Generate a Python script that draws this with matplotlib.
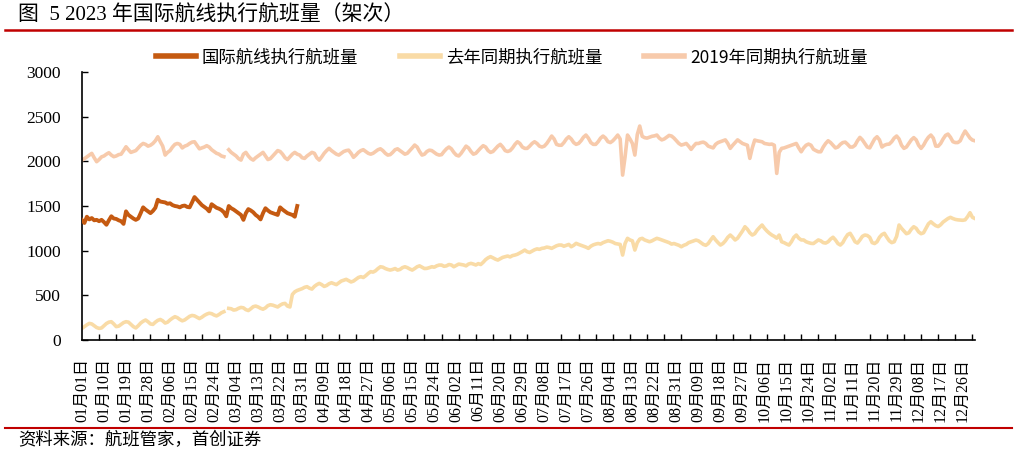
import matplotlib.pyplot as plt
import numpy as np
import pandas as pd

nan = np.nan

# daily values on a 366-day axis (02-29 slot is empty for 2019 / 2022)
flights_2023 = [
    1343, 1310, 1380, 1350, 1365, 1340, 1345,
    1330, 1345, 1320, 1290, 1340, 1385, 1360,
    1355, 1340, 1330, 1300, 1440, 1400, 1380,
    1360, 1345, 1360, 1420, 1485, 1460, 1440,
    1420, 1445, 1480, 1570, 1550, 1545, 1540,
    1525, 1530, 1510, 1500, 1495, 1485, 1500,
    1505, 1490, 1485, 1540, 1600, 1570, 1540,
    1510, 1490, 1470, 1440, 1520, 1500, 1480,
    1470, 1455, 1430, 1385, 1500, 1475, 1460,
    1440, 1420, 1400, 1345, 1420, 1465, 1450,
    1430, 1400, 1380, 1350, 1420, 1475, 1450,
    1430, 1420, 1410, 1400, 1485, 1460, 1440,
    1420, 1410, 1400, 1380, 1500,
]

flights_last_year = [
    130, 150, 170, 186, 180, 160, 140,
    130, 135, 160, 185, 200, 205, 180,
    150, 155, 175, 195, 205, 200, 175,
    150, 135, 160, 190, 210, 224, 205,
    180, 175, 200, 220, 230, 215, 190,
    200, 225, 245, 261, 250, 230, 215,
    225, 245, 265, 275, 270, 255, 240,
    255, 275, 290, 300, 295, 280, 270,
    285, 305, 317, nan, 354, 350, 335,
    340, 355, 365, 360, 340, 330, 350,
    373, 380, 370, 355, 345, 360, 385,
    395, 390, 380, 370, 390, 405, 410,
    380, 370, 510, 540, 555, 565, 575,
    590, 597, 580, 570, 600, 620, 634,
    620, 600, 610, 630, 641, 630, 620,
    640, 660, 670, 679, 665, 650, 660,
    680, 700, 709, 700, 720, 745, 765,
    760, 775, 800, 820, 815, 800, 790,
    783, 790, 800, 783, 790, 810, 820,
    810, 795, 783, 800, 820, 830, 815,
    800, 802, 810, 820, 815, 830, 839,
    839, 825, 830, 845, 840, 820, 835,
    850, 845, 840, 830, 850, 858, 850,
    840, 855, 845, 870, 900, 920, 933,
    920, 905, 895, 910, 925, 933, 940,
    930, 945, 951, 960, 975, 990, 1007,
    988, 980, 995, 1010, 1020, 1015, 1026,
    1030, 1040, 1035, 1026, 1040, 1055, 1063,
    1063, 1050, 1060, 1070, 1044, 1060, 1082,
    1070, 1060, 1050, 1040, 1026, 1050, 1065,
    1074, 1080, 1074, 1090, 1100, 1111, 1105,
    1095, 1080, 1075, 1070, 951, 1080, 1138,
    1120, 1110, 1007, 1090, 1130, 1138, 1120,
    1110, 1100, 1110, 1125, 1138, 1130, 1120,
    1110, 1100, 1090, 1074, 1080, 1070, 1060,
    1044, 1060, 1070, 1090, 1100, 1110, 1119,
    1110, 1090, 1070, 1060, 1080, 1120, 1156,
    1120, 1090, 1063, 1080, 1110, 1150, 1175,
    1150, 1120, 1140, 1180, 1220, 1268, 1240,
    1200, 1175, 1190, 1230, 1260, 1287, 1250,
    1220, 1195, 1175, 1160, 1140, 1175, 1100,
    1090, 1075, 1063, 1100, 1150, 1175, 1140,
    1120, 1120, 1100, 1090, 1082, 1080, 1100,
    1120, 1110, 1090, 1085, 1100, 1130, 1150,
    1120, 1080, 1063, 1090, 1140, 1180, 1194,
    1150, 1100, 1085, 1120, 1160, 1175, 1170,
    1150, 1090, 1080, 1100, 1150, 1180, 1194,
    1150, 1110, 1090, 1100, 1160, 1287, 1250,
    1220, 1190, 1200, 1240, 1268, 1250, 1210,
    1190, 1200, 1250, 1300, 1324, 1300, 1280,
    1270, 1290, 1320, 1340, 1360, 1373, 1360,
    1350, 1345, 1343, 1340, 1345, 1380, 1425,
    1373, 1360,
]

flights_2019 = [
    2014, 2030, 2050, 2070, 2089, 2040, 1996,
    2020, 2050, 2060, 2080, 2096, 2070, 2052,
    2060, 2075, 2080, 2120, 2163, 2130, 2100,
    2110, 2120, 2150, 2180, 2200, 2190, 2170,
    2180, 2200, 2230, 2275, 2220, 2170, 2070,
    2100, 2120, 2160, 2190, 2200, 2190, 2150,
    2170, 2180, 2200, 2215, 2219, 2180, 2140,
    2150, 2160, 2175, 2160, 2130, 2110, 2090,
    2080, 2060, 2052, nan, 2130, 2100, 2080,
    2060, 2030, 2014, 2080, 2100, 2060, 2030,
    2014, 2040, 2060, 2080, 2100, 2060, 2020,
    2030, 2060, 2090, 2120, 2110, 2080, 2040,
    2020, 2050, 2080, 2100, 2080, 2070, 2040,
    2033, 2060, 2080, 2100, 2090, 2040, 2014,
    2050, 2090, 2120, 2145, 2120, 2100, 2080,
    2070, 2090, 2110, 2120, 2125, 2090, 2045,
    2070, 2100, 2120, 2130, 2110, 2090, 2080,
    2090, 2110, 2130, 2140, 2120, 2090, 2070,
    2075, 2100, 2130, 2140, 2120, 2100, 2080,
    2090, 2120, 2150, 2182, 2160, 2110, 2070,
    2080, 2110, 2125, 2120, 2100, 2080, 2070,
    2075, 2110, 2140, 2160, 2140, 2100, 2070,
    2060, 2090, 2130, 2170, 2150, 2110, 2080,
    2090, 2120, 2150, 2175, 2160, 2120, 2100,
    2110, 2140, 2170, 2190, 2160, 2120, 2110,
    2120, 2150, 2190, 2219, 2200, 2160, 2145,
    2145, 2170, 2200, 2219, 2200, 2170, 2160,
    2170, 2200, 2240, 2283, 2250, 2190, 2180,
    2180, 2210, 2250, 2275, 2250, 2210, 2190,
    2200, 2230, 2270, 2294, 2260, 2210, 2190,
    2190, 2220, 2260, 2283, 2260, 2220, 2210,
    2230, 2260, 2294, 2250, 1846, 2050, 2294,
    2250, 2200, 2070, 2300, 2395, 2280, 2265,
    2260, 2270, 2280, 2285, 2294, 2260, 2240,
    2250, 2270, 2290, 2283, 2260, 2230, 2200,
    2182, 2190, 2200, 2170, 2134, 2170, 2200,
    2200, 2210, 2215, 2200, 2170, 2160, 2150,
    2190, 2210, 2220, 2230, 2240, 2200, 2145,
    2180, 2210, 2240, 2220, 2200, 2190, 2180,
    2033, 2150, 2238, 2230, 2225, 2219, 2200,
    2195, 2190, 2193, 2180, 1865, 2100, 2145,
    2150, 2160, 2170, 2180, 2190, 2200, 2150,
    2107, 2150, 2180, 2193, 2180, 2135, 2120,
    2107, 2107, 2160, 2200, 2230, 2210, 2180,
    2150, 2160, 2190, 2210, 2215, 2190, 2160,
    2160, 2180, 2230, 2268, 2240, 2200, 2160,
    2150, 2200, 2250, 2275, 2240, 2160, 2180,
    2190, 2193, 2220, 2260, 2283, 2250, 2180,
    2145, 2160, 2200, 2240, 2265, 2240, 2180,
    2145, 2180, 2230, 2270, 2294, 2260, 2170,
    2170, 2200, 2250, 2290, 2305, 2270, 2220,
    2210, 2210, 2230, 2290, 2339, 2300, 2260,
    2238, 2230,
]

# the axis runs over a leap-year calendar
dates = pd.date_range("2020-01-01", periods=366)
day_labels = [d.strftime("%m月%d日") for d in dates]

series_names = ["国际航线执行航班量", "去年同期执行航班量", "2019年同期执行航班量"]
series_colors = ["#C55A11", "#F9DBA6", "#F7CAAB"]

plt.rcParams['font.family'] = ["Liberation Serif", "Noto Sans CJK SC"]
sans_cjk = ["Noto Sans CJK SC", "DejaVu Sans"]


def plot():
    fig = plt.figure(figsize=(10.17, 4.55), dpi=100)
    ax = fig.add_axes([0.0806, 0.2527, 0.878, 0.5891])

    ax.plot(np.arange(len(flights_2019)), flights_2019, color=series_colors[2],
            lw=2.6, label=series_names[2], zorder=2)
    ax.plot(np.arange(len(flights_last_year)), flights_last_year, color=series_colors[1],
            lw=2.6, label=series_names[1], zorder=2)
    ax.plot(np.arange(len(flights_2023)), flights_2023, color=series_colors[0],
            lw=2.8, label=series_names[0], zorder=3)

    ax.set_xlim(0, 365)
    ax.set_ylim(0, 3000)
    ax.set_yticks(range(0, 3001, 500))
    ax.tick_params(axis="y", direction="in", length=4, width=1, pad=15, labelsize=12.5)

    # labels every 9 days, tick marks every 7 days
    label_pos = list(range(0, 366, 9))
    ax.set_xticks(label_pos)
    ax.set_xticklabels([day_labels[i] for i in label_pos], rotation=90, fontsize=11.5)
    ax.set_xticks(range(0, 366, 7), minor=True)
    ax.tick_params(axis="x", which="major", length=0, pad=13)
    ax.tick_params(axis="x", which="minor", direction="in", length=4, width=1)

    for s in ["top", "right"]:
        ax.spines[s].set_visible(False)
    ax.spines["left"].set_linewidth(1.2)
    ax.spines["bottom"].set_linewidth(1.2)

    handles, labels = ax.get_legend_handles_labels()
    order = [2, 1, 0]
    leg = fig.legend([handles[i] for i in order], [labels[i] for i in order],
                     loc="center", bbox_to_anchor=(0.503, 0.874), ncol=3,
                     frameon=False, handlelength=2.3, columnspacing=2.4,
                     handletextpad=0.35, prop={"family": sans_cjk, "size": 12.5})
    for line in leg.get_lines():
        line.set_linewidth(4)

    fig.text(0.018, 0.965, "图  5 2023 年国际航线执行航班量（架次）", fontsize=15,
             va="center", ha="left")
    fig.add_artist(plt.Line2D([0.005, 0.995], [0.934, 0.934], color="#C00000", lw=1.8))
    fig.add_artist(plt.Line2D([0.005, 0.995], [0.059, 0.059], color="#C00000", lw=1.5))
    fig.text(0.018, 0.032, "资料来源：航班管家，首创证券", fontsize=12.5,
             family=sans_cjk, style="italic", va="center", ha="left")

    fig.savefig("out.png", dpi=100)


def main():
    plot()


if __name__ == "__main__":
    main()
